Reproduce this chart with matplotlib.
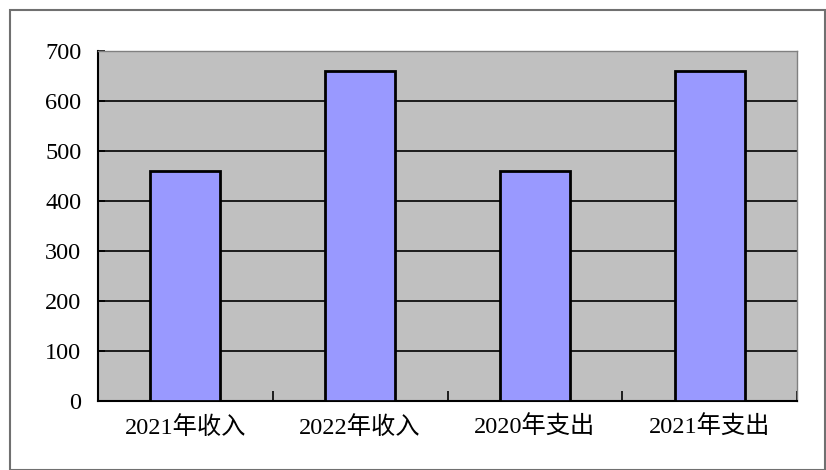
import matplotlib
matplotlib.use("Agg")
import matplotlib.pyplot as plt
from matplotlib.patches import Rectangle
from matplotlib.ticker import FixedLocator

plt.rcParams['font.family'] = ['Liberation Serif', 'Noto Sans CJK SC']

categories = ["2021年收入", "2022年收入", "2020年支出", "2021年支出"]
values = [460, 660, 460, 660]
yticks = [0, 100, 200, 300, 400, 500, 600, 700]

W, H = 826, 470
fig = plt.figure(figsize=(W / 100, H / 100), dpi=100)
fig.patch.set_facecolor("white")
fig.patches.append(Rectangle((10 / W, 0), (825 - 10) / W, (H - 10) / H,
                             transform=fig.transFigure, fill=False,
                             edgecolor="#707070", linewidth=1.5))

ax = fig.add_axes([98 / W, (H - 401) / H, 699 / W, 350 / H])
ax.set_facecolor("#C0C0C0")
x = list(range(len(categories)))
ax.bar(x, values, width=0.4, color="#9999FF", edgecolor="black", linewidth=2, zorder=3)
ax.set_xlim(-0.5, len(categories) - 0.5)
ax.set_ylim(0, 700)
ax.set_yticks(yticks)
ax.yaxis.grid(True, color="black", linewidth=1.2, zorder=1)
ax.set_axisbelow(True)
ax.set_xticks(x)
ax.set_xticklabels(categories, fontsize=17.5)
ax.tick_params(axis="x", length=0, pad=11)
ax.xaxis.set_minor_locator(FixedLocator([i + 0.5 for i in range(len(categories))]))
ax.tick_params(axis="x", which="minor", direction="in", length=7, width=1.2, color="black")
ax.tick_params(axis="y", direction="in", length=5, width=1.2, labelsize=17.5, pad=12)
for s in ["top", "right"]:
    ax.spines[s].set_color("#808080")
    ax.spines[s].set_linewidth(1)
for s in ["left", "bottom"]:
    ax.spines[s].set_color("black")
    ax.spines[s].set_linewidth(1.5)

fig.savefig("out.png", dpi=100)
